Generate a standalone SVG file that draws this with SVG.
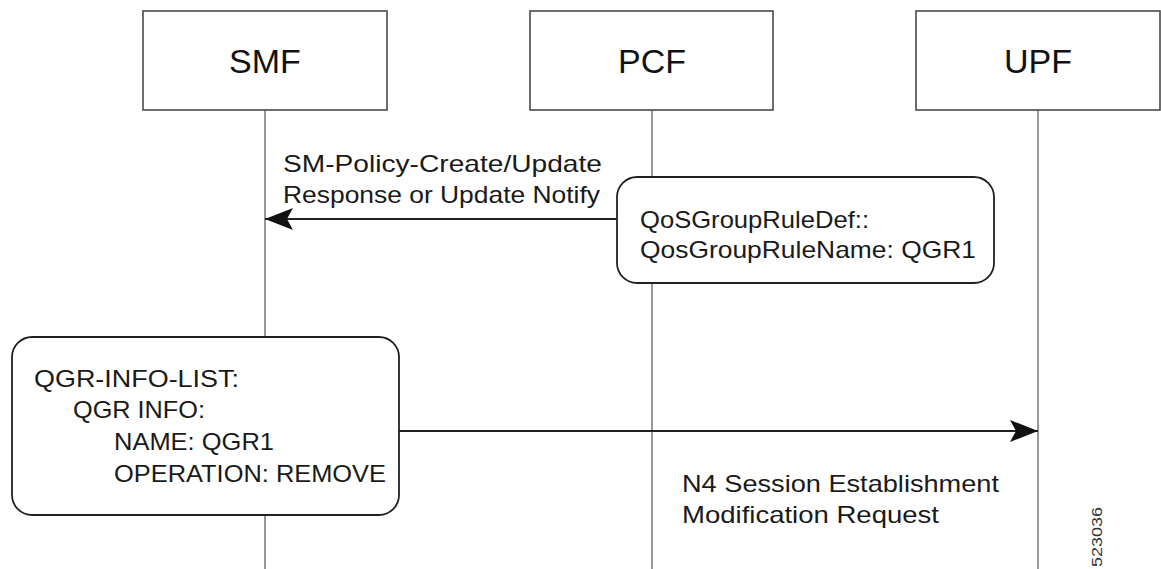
<svg xmlns="http://www.w3.org/2000/svg" width="1161" height="569" viewBox="0 0 1161 569">
  <style>
    .box { fill: #ffffff; stroke: #4a4a4a; stroke-width: 1.6; }
    .note { fill: #ffffff; stroke: #222222; stroke-width: 1.8; }
    .life { stroke: #777777; stroke-width: 1.5; fill: none; }
    .msg { stroke: #222222; stroke-width: 1.8; fill: none; }
    .hdr { font-family: "Liberation Sans", Arial, sans-serif; font-size: 34px; fill: #111111; text-anchor: middle; }
    .txt { font-family: "Liberation Sans", Arial, sans-serif; font-size: 24px; fill: #1a1a1a; }
    .tag { font-family: "Liberation Sans", Arial, sans-serif; font-size: 14px; fill: #333333; }
  </style>
  <defs>
    <marker id="arrow" markerUnits="userSpaceOnUse" viewBox="0 -12 30 24" markerWidth="30" markerHeight="24" refX="28" refY="0" orient="auto" overflow="visible">
      <path d="M0,-11 L28,0 L0,11 L6,0 Z" fill="#111111"/>
    </marker>
  </defs>
  <rect width="1161" height="569" fill="#ffffff"/>

  <g id="lifelines">
    <line class="life" x1="265" y1="110" x2="265" y2="569"/>
    <line class="life" x1="652" y1="110" x2="652" y2="569"/>
    <line class="life" x1="1038" y1="110" x2="1038" y2="569"/>
  </g>

  <g id="smf">
    <rect class="box" x="143" y="11" width="244" height="99"/>
    <text class="hdr" x="265" y="73">SMF</text>
  </g>
  <g id="pcf">
    <rect class="box" x="530" y="11" width="243" height="99"/>
    <text class="hdr" x="652" y="73">PCF</text>
  </g>
  <g id="upf">
    <rect class="box" x="916" y="11" width="244" height="99"/>
    <text class="hdr" x="1038" y="73">UPF</text>
  </g>

  <g id="connectors">
    <line class="msg" x1="617" y1="219" x2="265" y2="219" marker-end="url(#arrow)"/>
    <line class="msg" x1="399" y1="431" x2="1038" y2="431" marker-end="url(#arrow)"/>
    <text class="txt" x="283" y="172" textLength="319" lengthAdjust="spacingAndGlyphs">SM-Policy-Create/Update</text>
    <text class="txt" x="283" y="203" textLength="317" lengthAdjust="spacingAndGlyphs">Response or Update Notify</text>
    <text class="txt" x="682" y="492" textLength="317" lengthAdjust="spacingAndGlyphs">N4 Session Establishment</text>
    <text class="txt" x="682" y="523" textLength="257" lengthAdjust="spacingAndGlyphs">Modification Request</text>
  </g>

  <g id="note-pcf">
    <rect class="note" x="617" y="177" width="377" height="106" rx="20" ry="20"/>
    <text class="txt" x="640" y="228" textLength="229" lengthAdjust="spacingAndGlyphs">QoSGroupRuleDef::</text>
    <text class="txt" x="640" y="258" textLength="336" lengthAdjust="spacingAndGlyphs">QosGroupRuleName: QGR1</text>
  </g>

  <g id="note-smf">
    <rect class="note" x="12" y="337" width="387" height="178" rx="20" ry="20"/>
    <text class="txt" x="34" y="387" textLength="205" lengthAdjust="spacingAndGlyphs">QGR-INFO-LIST:</text>
    <text class="txt" x="73" y="418" textLength="132" lengthAdjust="spacingAndGlyphs">QGR INFO:</text>
    <text class="txt" x="114" y="450" textLength="160" lengthAdjust="spacingAndGlyphs">NAME: QGR1</text>
    <text class="txt" x="114" y="482" textLength="272" lengthAdjust="spacingAndGlyphs">OPERATION: REMOVE</text>
  </g>

  <g id="figure-id">
    <text class="tag" transform="translate(1102,567) rotate(-90)" x="0" y="0" textLength="60" lengthAdjust="spacingAndGlyphs">523036</text>
  </g>
</svg>
